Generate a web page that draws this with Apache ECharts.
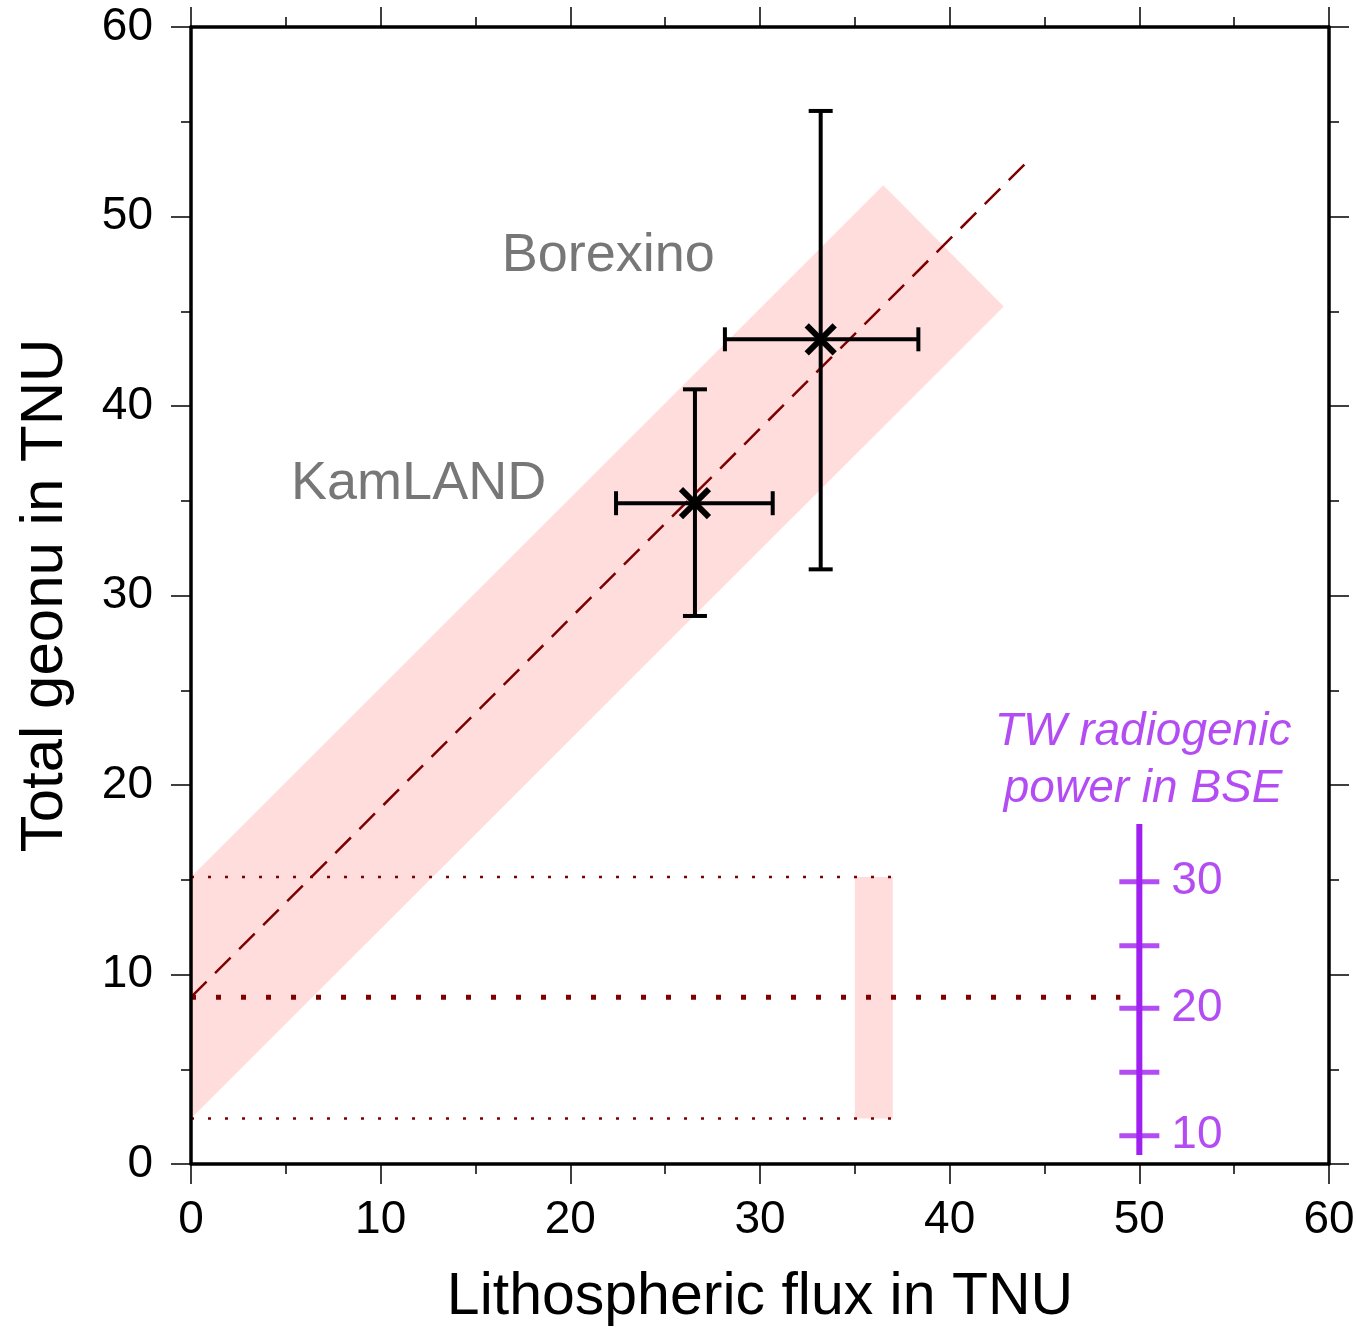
<!DOCTYPE html>
<html style="height: 100%">
<head>
  <meta charset="utf-8">
  <title>Total geonu vs lithospheric flux</title>
</head>
<body style="height: 100%; margin: 0; background: #fff">
<div id="container" style="width: 1356px; height: 1327px;"></div>
<script src="https://cdn.jsdelivr.net/npm/echarts@6/dist/echarts.min.js"></script>
<script>
  // axes (TNU)
  var axisMin = 0, axisMax = 60, axisStep = 10;

  // prediction band and fit, in data units [x, y]
  var bandPolygon = [[0, 2.4], [0, 15.15], [36.5, 51.65], [42.85, 45.25]];
  var mantleBox = [[35, 2.4], [37, 15.15]];
  var fitLine = [[0, 8.8], [44.1, 52.9]];
  var dotUpper = [[0, 15.15], [37, 15.15]];
  var dotMid = [[0, 8.8], [49, 8.8]];
  var dotLower = [[0, 2.4], [37, 2.4]];

  // experiments: [x, y, xLow, xHigh, yLow, yHigh]
  var expNames = ['KamLAND', 'Borexino'];
  var kamland = [26.57, 34.87, 22.41, 30.67, 28.92, 40.88];
  var borexino = [33.2, 43.52, 28.15, 38.35, 31.38, 55.57];
  var expLabelPos = [[12.0, 35.9], [22.0, 47.9]];

  // TW radiogenic power scale
  var twValues = [10, 15, 20, 25, 30];
  var twTnu = [1.49, 4.84, 8.22, 11.52, 14.9];
  var twX = 50;
  var twRange = [0.47, 17.94];
  var twTitlePos = [50.2, 21.3];

  var font = 'Liberation Sans, Arial, Helvetica, sans-serif';
  var purple = '#a020f0';
  var maroon = '#800000';
  var pink = '#ffdddd';

  var dom = document.getElementById('container');
  var myChart = echarts.init(dom);

  function axisCommon(pos, showLabel) {
    return {
      type: 'value',
      position: pos,
      min: axisMin,
      max: axisMax,
      interval: axisStep,
      z: 10,
      axisLine: { show: true, onZero: false, lineStyle: { color: '#000', width: 3.5 } },
      axisTick: { show: true, inside: false, length: 20, lineStyle: { color: '#000', width: 1.5 } },
      minorTick: { show: true, splitNumber: 2, length: 10, lineStyle: { color: '#000', width: 1.5 } },
      splitLine: { show: false },
      axisLabel: { show: showLabel, color: '#000', fontSize: 46, fontFamily: font, margin: 36 }
    };
  }

  var xBottom = axisCommon('bottom', true);
  xBottom.name = 'Lithospheric flux in TNU';
  xBottom.nameLocation = 'middle';
  xBottom.nameGap = 104;
  xBottom.nameTextStyle = { color: '#000', fontSize: 59, fontFamily: font };
  xBottom.axisLabel.margin = 33;

  var yLeft = axisCommon('left', true);
  yLeft.name = 'Total geonu in TNU';
  yLeft.nameLocation = 'middle';
  yLeft.nameGap = 116;
  yLeft.nameTextStyle = { color: '#000', fontSize: 60, fontFamily: font };
  yLeft.axisLabel.margin = 38;

  function seg(a, b, st) {
    return { type: 'line', shape: { x1: a[0], y1: a[1], x2: b[0], y2: b[1] }, style: st };
  }

  function renderErr(params, api) {
    var x = api.value(0), y = api.value(1);
    var c = api.coord([x, y]);
    var l = api.coord([api.value(2), y]);
    var r = api.coord([api.value(3), y]);
    var b = api.coord([x, api.value(4)]);
    var t = api.coord([x, api.value(5)]);
    var cap = 12, m = 14;
    var st = { stroke: '#000', lineWidth: 4 };
    var sx = { stroke: '#000', lineWidth: 6 };
    return {
      type: 'group',
      children: [
        seg(l, r, st), seg(b, t, st),
        seg([l[0], l[1] - cap], [l[0], l[1] + cap], st),
        seg([r[0], r[1] - cap], [r[0], r[1] + cap], st),
        seg([b[0] - cap, b[1]], [b[0] + cap, b[1]], st),
        seg([t[0] - cap, t[1]], [t[0] + cap, t[1]], st),
        seg([c[0] - m, c[1] - m], [c[0] + m, c[1] + m], sx),
        seg([c[0] - m, c[1] + m], [c[0] + m, c[1] - m], sx)
      ]
    };
  }

  function renderBand(params, api) {
    var pts = bandPolygon.map(function (p) { return api.coord(p); });
    return { type: 'polygon', shape: { points: pts }, style: { fill: pink } };
  }

  function renderBox(params, api) {
    var a = api.coord(mantleBox[0]);
    var b = api.coord(mantleBox[1]);
    return {
      type: 'rect',
      shape: { x: a[0], y: b[1], width: b[0] - a[0], height: a[1] - b[1] },
      style: { fill: pink }
    };
  }

  function dotted(data, width, dash) {
    return {
      type: 'line', data: data, symbol: 'none', z: 3, silent: true,
      lineStyle: { color: maroon, width: width, type: dash, cap: 'butt' }
    };
  }

  var twScatter = twValues.map(function (v, i) {
    return { value: [twX, twTnu[i]], name: (v % 10 === 0) ? String(v) : '' };
  });

  option = {
    animation: false,
    backgroundColor: '#fff',
    grid: { left: 191, right: 27, top: 27, bottom: 163, containLabel: false, outerBoundsMode: 'none' },
    xAxis: [xBottom, axisCommon('top', false)],
    yAxis: [yLeft, axisCommon('right', false)],
    series: [
      { type: 'custom', renderItem: renderBand, data: [[0, 0]], z: 1, silent: true },
      { type: 'custom', renderItem: renderBox, data: [[0, 0]], z: 1, silent: true },
      dotted(dotUpper, 2.5, [3, 14]),
      dotted(dotLower, 2.5, [3, 14]),
      dotted(dotMid, 5, [5, 20]),
      {
        type: 'line', data: fitLine, symbol: 'none', z: 4, silent: true,
        lineStyle: { color: maroon, width: 2.5, type: [22, 12] }
      },
      {
        type: 'custom', renderItem: renderErr, z: 5, silent: true,
        data: [kamland, borexino]
      },
      {
        type: 'scatter', z: 6, silent: true, symbol: 'rect', symbolSize: 1,
        itemStyle: { color: 'rgba(0,0,0,0)' },
        data: expNames.map(function (n, i) { return { name: n, value: expLabelPos[i] }; }),
        label: {
          show: true, position: 'inside', formatter: '{b}',
          color: '#555', fontSize: 54, fontFamily: font
        }
      },
      {
        type: 'line', data: [[twX, twRange[0]], [twX, twRange[1]]], symbol: 'none', z: 6, silent: true,
        lineStyle: { color: purple, width: 6 }
      },
      {
        type: 'scatter', z: 7, silent: true, symbol: 'rect', symbolSize: [40, 5],
        itemStyle: { color: purple },
        data: twScatter,
        label: {
          show: true, position: 'right', distance: 12, formatter: '{b}',
          color: purple, fontSize: 46, fontFamily: font
        }
      },
      {
        type: 'scatter', z: 7, silent: true, symbol: 'rect', symbolSize: 1,
        itemStyle: { color: 'rgba(0,0,0,0)' },
        data: [{ name: 'TW radiogenic\npower in BSE', value: twTitlePos }],
        label: {
          show: true, position: 'inside', formatter: '{b}', align: 'center',
          color: purple, fontSize: 46, fontStyle: 'italic', fontFamily: font, lineHeight: 57
        }
      }
    ]
  };

  if (option && typeof option === 'object') {
    myChart.setOption(option, true);
  }
</script>
</body>
</html>
